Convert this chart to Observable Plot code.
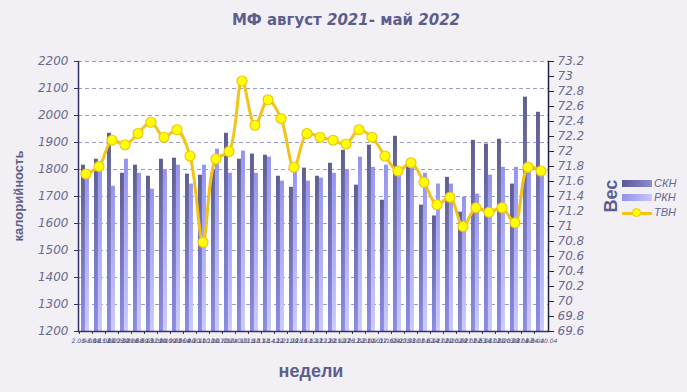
<!DOCTYPE html>
<html>
<head>
<meta charset="utf-8">
<script src="https://cdn.jsdelivr.net/npm/d3@7"></script>
<script src="https://cdn.jsdelivr.net/npm/@observablehq/plot@0.6"></script>
<style>
  html, body { margin: 0; padding: 0; background: #F2F0F5; }
  #wrap { position: relative; width: 687px; height: 392px; background: #F2F0F5; overflow: hidden; }
  #wrap svg { position: absolute; left: 0; top: 0; }
  .lbl { position: absolute; color: #5E5E8E; font-family: "Liberation Sans", Arial, sans-serif; font-weight: bold; white-space: nowrap; }
  #title { left: 0; width: 692px; top: 11px; text-align: center; font-family: "DejaVu Sans", sans-serif; font-size: 15px; }
  #title i { font-family: "DejaVu Sans", sans-serif; font-weight: bold; }
  #ytitle { left: 18px; top: 196px; font-size: 13px; transform: translate(-50%, -50%) rotate(-90deg); }
  #xtitle { left: 311px; top: 371px; font-size: 18px; transform: translate(-50%, -50%); }
  #rtitle { left: 611px; top: 196px; font-size: 18px; transform: translate(-50%, -50%) rotate(-90deg); }
  .leg { position: absolute; font-family: "Liberation Sans", Arial, sans-serif; font-style: italic; font-size: 11px; color: #66668F; }
  .sw { position: absolute; width: 30px; height: 7px; }
</style>
</head>
<body>
<div id="wrap">
  <div id="chart"></div>
  <div id="title" class="lbl">МФ август <i>2021</i>- май <i>2022</i></div>
  <div id="ytitle" class="lbl">калорийность</div>
  <div id="xtitle" class="lbl">недели</div>
  <div id="rtitle" class="lbl">Вес</div>
  <div class="sw" style="left:622px;top:180px;background:linear-gradient(to right,#5A5A90,#8C8CD8);"></div>
  <div class="leg" style="left:654px;top:177px;">СКН</div>
  <div class="sw" style="left:622px;top:194px;background:linear-gradient(to right,#9090EC,#C8C8FF);"></div>
  <div class="leg" style="left:654px;top:191px;">РКН</div>
  <div style="position:absolute;left:622px;top:212px;width:30px;height:3px;background:#F2C318;"></div>
  <div style="position:absolute;left:632px;top:208px;width:9px;height:9px;border-radius:50%;background:#FFFF00;border:1px solid #F2C318;box-sizing:border-box;"></div>
  <div class="leg" style="left:654px;top:206px;">ТВН</div>
</div>
<script>
// ---- data ----
const weeks = [
  "2.08-8.08","9.08-15.08","16.08-22.08","23.08-29.08","30.08-5.09","6.09-12.09",
  "13.09-19.09","20.09-26.09","27.09-3.10","4.10-10.10","11.10-17.10","18.10-24.10",
  "25.10-31.10","1.11-7.11","8.11-14.11","15.11-21.11","22.11-28.11","29.11-5.12",
  "6.12-12.12","13.12-19.12","20.12-26.12","27.12-2.01","3.01-9.01","10.01-16.01",
  "17.01-23.01","24.01-30.01","31.01-6.02","7.02-13.02","14.02-20.02","21.02-27.02",
  "28.02-6.03","7.03-13.03","14.03-20.03","21.03-27.03","28.03-3.04","4.04-10.04"
];
const ckn = [1816,1838,1934,1786,1816,1775,1838,1842,1783,1779,1800,1934,
             1838,1857,1853,1775,1734,1805,1775,1823,1871,1742,1890,1686,
             1923,1812,1668,1628,1771,1642,1908,1894,1912,1746,2068,2012];
const rkn = [1779,1800,1738,1838,1786,1727,1800,1816,1746,1816,1875,1786,
             1868,1786,1846,1757,1800,1757,1768,1786,1800,1846,1808,1816,
             1791,1805,1786,1746,1746,1697,1709,1779,1808,1808,1810,1786];
const tvn = [71.70,71.80,72.15,72.09,72.24,72.39,72.19,72.29,71.94,70.79,71.90,72.00,
             72.94,72.35,72.69,72.44,71.79,72.24,72.19,72.15,72.10,72.29,72.19,71.94,
             71.74,71.85,71.59,71.29,71.39,71.00,71.25,71.19,71.25,71.05,71.79,71.74];
const leftTicks = [1200,1300,1400,1500,1600,1700,1800,1900,2000,2100,2200];
const rightTicks = [69.6,69.8,70,70.2,70.4,70.6,70.8,71,71.2,71.4,71.6,71.8,72,72.2,72.4,72.6,72.8,73,73.2];

const calMin = 1200, calMax = 2200, wMin = 69.6, wMax = 73.2;
const toCal = w => calMin + (w - wMin) * (calMax - calMin) / (wMax - wMin);
const toW = c => wMin + (c - calMin) * (wMax - wMin) / (calMax - calMin);

const data = weeks.map((w, i) => ({week: w, ckn: ckn[i], rkn: rkn[i], tvn: tvn[i]}));

const tickColor = "#6B6B8E";
const axisColor = "#333366";

const chart = Plot.plot({
  width: 687,
  height: 392,
  marginTop: 61,
  marginBottom: 61,
  marginLeft: 78,
  marginRight: 139,
  style: {background: "transparent", fontFamily: "DejaVu Sans, sans-serif", color: tickColor, overflow: "visible"},
  x: {type: "band", domain: weeks, padding: 0},
  y: {domain: [calMin, calMax]},
  marks: [
    Plot.frame({fill: "white", stroke: null}),
    Plot.gridY(leftTicks, {stroke: "#9A9ACC", strokeOpacity: 1, strokeDasharray: "4,3", strokeWidth: 1}),
    Plot.barY(data, {x: "week", y1: calMin, y2: "ckn", fill: "url(#gDark)", insetLeft: 2, insetRight: 7.06}),
    Plot.barY(data, {x: "week", y1: calMin, y2: "rkn", fill: "url(#gLight)", insetLeft: 6, insetRight: 3.06}),
    Plot.line(data, {x: "week", y: d => toCal(d.tvn), stroke: "#F2C318", strokeWidth: 3, curve: "catmull-rom"}),
    Plot.dot(data, {x: "week", y: d => toCal(d.tvn), r: 5, fill: "#FFFF00", stroke: "#F2C318", strokeWidth: 1.2}),
    Plot.ruleY([calMin], {stroke: axisColor, strokeWidth: 1.5}),
    Plot.frame({anchor: "left", stroke: axisColor, strokeWidth: 1.5}),
    Plot.frame({anchor: "right", stroke: "#222244", strokeWidth: 1.5}),
    Plot.axisY({ticks: leftTicks, tickFormat: d => String(d), anchor: "left", tickSize: 4, tickPadding: 6, fontSize: 12, fontStyle: "italic", label: null, stroke: axisColor}),
    Plot.axisY({ticks: rightTicks.map(toCal), tickFormat: c => String(+toW(c).toFixed(1)), anchor: "right", tickSize: 5, tickPadding: 4, fontSize: 12, fontStyle: "italic", label: null, stroke: "#222244"}),
    Plot.axisX({tickSize: 0, tickPadding: 7, fontSize: 6, fontStyle: "italic", label: null, fill: "#55557A"}),
    Plot.axisX({tickSize: 3, tickFormat: () => "", dx: -6.53, label: null, stroke: axisColor})
  ]
});

chart.insertAdjacentHTML("afterbegin",
  '<defs>' +
  '<linearGradient id="gDark" x1="0" y1="0" x2="0" y2="1"><stop offset="0" stop-color="#5F5F8F"/><stop offset="1" stop-color="#8C8CE6"/></linearGradient>' +
  '<linearGradient id="gLight" x1="0" y1="0" x2="0" y2="1"><stop offset="0" stop-color="#9494F0"/><stop offset="1" stop-color="#CBCBFF"/></linearGradient>' +
  '</defs>');

document.getElementById("chart").appendChild(chart);
</script>
</body>
</html>
